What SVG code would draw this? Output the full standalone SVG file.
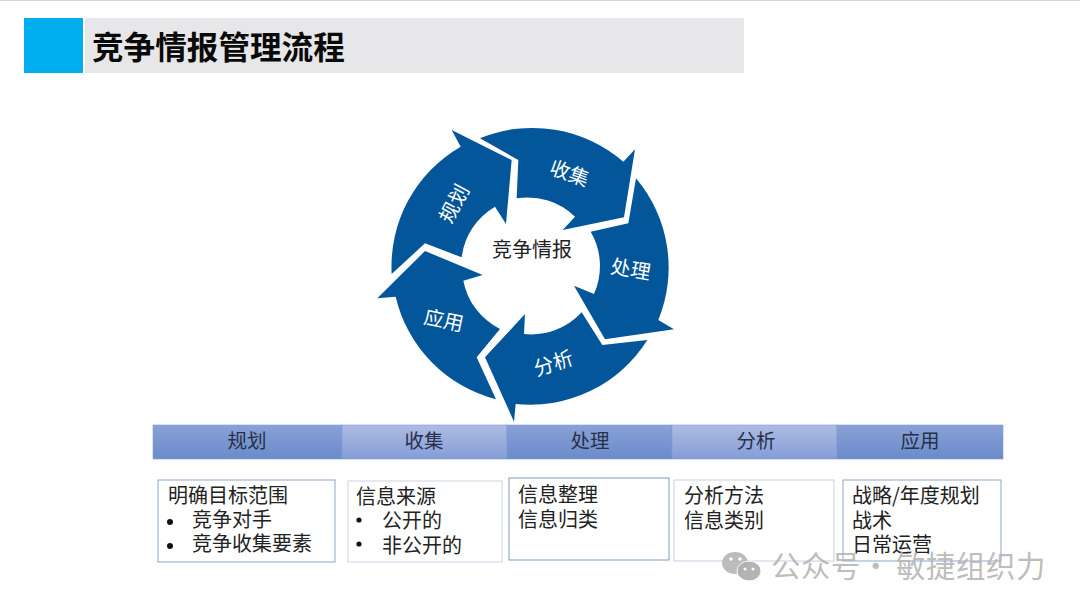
<svg xmlns="http://www.w3.org/2000/svg" width="1080" height="610" viewBox="0 0 1080 610">
<style>
text{font-family:"Noto Sans CJK SC","Noto Sans",sans-serif;fill:#222}
.seg{fill:#04569b}
.rl{fill:#fff;font-size:20px;text-anchor:middle;dominant-baseline:central}
.hd{font-size:19.5px;text-anchor:middle;fill:#26304a}
.box{fill:#fff;stroke-width:1}
.t{font-size:20px}
</style>
<defs>
<linearGradient id="g1" x1="0" y1="0" x2="0" y2="1"><stop offset="0" stop-color="#8aa1d6"/><stop offset="1" stop-color="#6a8bca"/></linearGradient>
<linearGradient id="g2" x1="0" y1="0" x2="0" y2="1"><stop offset="0" stop-color="#aebce2"/><stop offset="1" stop-color="#849cd7"/></linearGradient>
</defs>
<rect width="1080" height="1" fill="#d9d9d9"/>
<g id="title">
<rect x="85" y="18" width="659" height="55" fill="#e7e6e8"/>
<rect x="24" y="18" width="59" height="55" fill="#00aeef"/>
<text x="92" y="59" font-size="31.6" font-weight="700" style="fill:#0a0a0a">竞争情报管理流程</text>
</g>
<g id="cycle">
<g id="seg-collect"><path class="seg" transform="translate(370 120) scale(.33333)" d="M330,55A415,415 0 0 1 760,125L795,88L762,292L578,330L615,290A205,205 0 0 0 440,235L445,120Z"/><text class="rl" transform="translate(570 172) rotate(20)">收集</text></g>
<g id="seg-process"><path class="seg" transform="translate(370 120) scale(.33333)" d="M798,175A415,415 0 0 1 865,600L912,628L705,658L612,497L672,522A205,205 0 0 0 662,335L775,310Z"/><text class="rl" transform="translate(631 268) rotate(10)">处理</text></g>
<g id="seg-analyze"><path class="seg" transform="translate(370 120) scale(.33333)" d="M832,660A415,415 0 0 1 437,852L432,905L345,712L465,582L462,642A205,205 0 0 0 635,577L697,675Z"/><text class="rl" transform="translate(553 362) rotate(-18)">分析</text></g>
<g id="seg-apply"><path class="seg" transform="translate(370 120) scale(.33333)" d="M378,838A415,415 0 0 1 77,530L22,535L165,393L338,465L280,482A205,205 0 0 0 390,627L320,712Z"/><text class="rl" transform="translate(444 319) rotate(12)">应用</text></g>
<g id="seg-plan"><path class="seg" transform="translate(370 120) scale(.33333)" d="M65,462A415,415 0 0 1 272,80L245,30L425,120L408,312L375,260A205,205 0 0 0 275,412L165,370Z"/><text class="rl" transform="translate(453 203) rotate(-62)">规划</text></g>
<g id="center"><text x="532" y="257" font-size="20" text-anchor="middle">竞争情报</text></g>
</g>
<g id="header">
<g id="h1"><rect x="153" y="425" width="189" height="34" fill="url(#g1)" stroke="#7f9ad4" stroke-width=".6"/><text class="hd" x="247" y="448">规划</text></g>
<g id="h2"><rect x="342" y="425" width="165" height="34" fill="url(#g2)" stroke="#7f9ad4" stroke-width=".6"/><text class="hd" x="424" y="448">收集</text></g>
<g id="h3"><rect x="507" y="425" width="165" height="34" fill="url(#g1)" stroke="#7f9ad4" stroke-width=".6"/><text class="hd" x="590" y="448">处理</text></g>
<g id="h4"><rect x="672" y="425" width="165" height="34" fill="url(#g2)" stroke="#7f9ad4" stroke-width=".6"/><text class="hd" x="756" y="448">分析</text></g>
<g id="h5"><rect x="837" y="425" width="166" height="34" fill="url(#g1)" stroke="#7f9ad4" stroke-width=".6"/><text class="hd" x="920" y="448">应用</text></g>
</g>
<g id="b1"><rect class="box" x="158" y="480" width="177" height="82" stroke="#8ea5cc"/>
<text class="t"><tspan x="168" y="503">明确目标范围</tspan><tspan x="192" y="527">竞争对手</tspan><tspan x="192" y="551">竞争收集要素</tspan></text>
<circle cx="170" cy="522" r="3" fill="#111"/><circle cx="170" cy="546" r="3" fill="#111"/></g>
<g id="b2"><rect class="box" x="348" y="481" width="154" height="81" stroke="#cdd3e6"/>
<text class="t"><tspan x="356" y="504">信息来源</tspan><tspan x="382" y="528">公开的</tspan><tspan x="382" y="553">非公开的</tspan></text>
<circle cx="359" cy="520" r="2.6" fill="#111"/><circle cx="359" cy="544" r="2.6" fill="#111"/></g>
<g id="b3"><rect class="box" x="509" y="478" width="160" height="82" stroke="#7f98c2"/>
<text class="t"><tspan x="518" y="502">信息整理</tspan><tspan x="518" y="527">信息归类</tspan></text></g>
<g id="b4"><rect class="box" x="674" y="480" width="160" height="81" stroke="#c9cfe6"/>
<text class="t"><tspan x="684" y="503">分析方法</tspan><tspan x="684" y="528">信息类别</tspan></text></g>
<g id="b5"><rect class="box" x="843" y="480" width="158" height="81" stroke="#8ea5cc"/>
<text class="t"><tspan x="852" y="503">战略/年度规划</tspan><tspan x="852" y="528">战术</tspan><tspan x="852" y="552">日常运营</tspan></text></g>
<g id="watermark">
<ellipse cx="735" cy="563" rx="13" ry="11" fill="#b5b5b5" opacity=".9"/>
<ellipse cx="749" cy="571" rx="12" ry="10" fill="#b0b0b0" stroke="#fff" stroke-width="1" opacity=".95"/>
<circle cx="731" cy="559" r="1.8" fill="#fff"/><circle cx="740" cy="559" r="1.8" fill="#fff"/>
<circle cx="745" cy="569" r="1.5" fill="#fff"/><circle cx="753" cy="569" r="1.5" fill="#fff"/>
<text y="577" font-size="29.4" style="fill:#b4b4b4;fill-opacity:.9" letter-spacing=".6"><tspan x="771">公众号</tspan><tspan x="861">·</tspan><tspan x="896">敏捷组织力</tspan></text>
</g>
</svg>
